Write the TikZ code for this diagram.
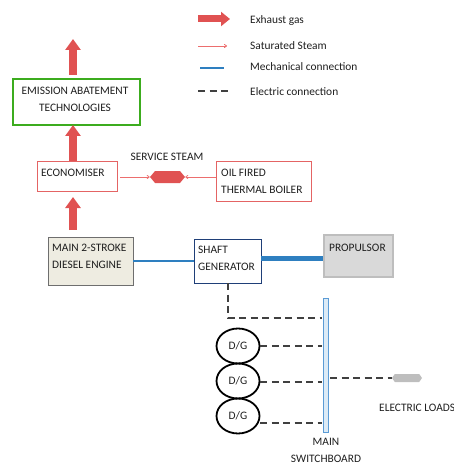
\documentclass[tikz,border=0pt]{standalone}
\usepackage{fontspec}
\setmainfont{Carlito}
\usetikzlibrary{arrows.meta,shapes.geometric,shapes.symbols}
\definecolor{exred}{RGB}{224,82,82}
\definecolor{stred}{RGB}{236,110,110}
\definecolor{boxred}{RGB}{228,100,100}
\definecolor{grn}{RGB}{60,172,30}
\definecolor{mblue}{RGB}{46,127,192}
\definecolor{dblue}{RGB}{31,63,120}
\definecolor{engfill}{RGB}{238,236,225}
\definecolor{enggray}{RGB}{110,110,110}
\definecolor{propfill}{RGB}{217,217,217}
\definecolor{propgray}{RGB}{190,190,190}
\definecolor{swfill}{RGB}{220,235,247}
\definecolor{swblue}{RGB}{91,155,213}
\definecolor{loadgray}{RGB}{190,190,190}
\definecolor{txtc}{RGB}{30,30,30}
\begin{document}
\begin{tikzpicture}[x=1pt,y=-1pt,
  every node/.style={font=\fontsize{11.4}{17}\selectfont, text=txtc},
  txt/.style={inner sep=0pt, align=left},
  exhaust/.style={exred, line width=8pt, -{Triangle[length=11pt,width=15pt]}},
  steam/.style={stred, line width=0.8pt, -{To[length=3pt,width=4pt]}},
  mech/.style={mblue, line width=2.6pt},
  mechthick/.style={mblue, line width=5pt},
  elec/.style={black!75, line width=1.2pt, dash pattern=on 7pt off 4.5pt},
  rbox/.style={draw, rectangle, inner sep=0pt, anchor=north west},
  dg/.style={draw=black, line width=1.8pt, ellipse, minimum width=43pt, minimum height=35pt, inner sep=0pt}
]
\useasboundingbox (0,0) rectangle (454,465);

% legend
\coordinate (l1a) at (198,19); \coordinate (l1b) at (230,19);
\coordinate (l2a) at (198,46); \coordinate (l2b) at (227,46);
\coordinate (l3a) at (200,68); \coordinate (l3b) at (224,68);
\coordinate (l4a) at (198,91); \coordinate (l4b) at (232,91);
\draw[exhaust, line width=7pt, -{Triangle[length=9pt,width=14pt]}] (l1a) -- (l1b);
\draw[steam] (l2a) -- (l2b);
\draw[mech] (l3a) -- (l3b);
\draw[elec, line width=1.3pt] (l4a) -- (l4b);
\node[txt, anchor=west] (lt1) at (250,21) {Exhaust gas};
\node[txt, anchor=west] (lt2) at (250,46) {Saturated Steam};
\node[txt, anchor=west] (lt3) at (250,67) {Mechanical connection};
\node[txt, anchor=west] (lt4) at (250,92) {Electric connection};

% boxes
\node[rbox, draw=grn, line width=1.6pt, minimum width=127pt, minimum height=46pt] (emis) at (12,78) {};
\node[txt, align=center] (emist) at (75,99) {EMISSION ABATEMENT\\TECHNOLOGIES};
\node[rbox, draw=boxred, line width=0.8pt, minimum width=80pt, minimum height=30pt] (eco) at (37,161) {};
\node[txt, anchor=west] (ecot) at (41,173) {ECONOMISER};
\node[rbox, draw=boxred, line width=0.8pt, minimum width=95pt, minimum height=40pt] (boil) at (216,161) {};
\node[txt, anchor=west] (boilt) at (221,181.5) {OIL FIRED\\THERMAL BOILER};
\node[rbox, draw=enggray, fill=engfill, line width=1pt, minimum width=85pt, minimum height=48pt] (eng) at (48,237) {};
\node[txt, anchor=west] (engt) at (52,256.5) {MAIN 2-STROKE\\DIESEL ENGINE};
\node[rbox, draw=dblue, line width=0.9pt, minimum width=67pt, minimum height=44pt] (sg) at (194,239) {};
\node[txt, anchor=west] (sgt) at (198,258.5) {SHAFT\\GENERATOR};
\node[rbox, draw=propgray, fill=propfill, line width=2pt, minimum width=69pt, minimum height=42pt] (prop) at (323,234) {};
\node[txt, anchor=west] (propt) at (329,248) {PROPULSOR};

% service steam
\node[signal, signal to=east and west, signal pointer angle=100, fill=exred, inner sep=0pt, minimum width=35pt, minimum height=12pt] (hex) at (167.5,177) {};
\node[txt] (sst) at (167,157) {SERVICE STEAM};
\coordinate (ecoR) at (120,177);
\coordinate (boilL) at (216,177);
\draw[steam] (ecoR) -- (hex.west);
\draw[steam] (boilL) -- (hex.east);

% exhaust arrows
\coordinate (emisTopS) at (73,75);
\coordinate (emisTop) at (73,39);
\draw[exhaust] (emisTopS) -- (emisTop);
\coordinate (ecoTop) at (73,161);
\coordinate (emisBot) at (73,125);
\draw[exhaust] (ecoTop) -- (emisBot);
\coordinate (engTop) at (73,230);
\coordinate (ecoBot) at (73,197);
\draw[exhaust] (engTop) -- (ecoBot);

% mechanical
\coordinate (engR) at (133,261); \coordinate (sgL) at (194,261);
\draw[mech] (engR) -- (sgL);
\coordinate (sgR) at (261,258); \coordinate (propL) at (323,258);
\draw[mechthick] (sgR) -- (propL);

% switchboard
\node[rbox, draw=swblue, fill=swfill, line width=0.8pt, minimum width=5pt, minimum height=134pt] (sw) at (323,298) {};
\node[txt, align=center] (swt) at (326,450.5) {MAIN\\SWITCHBOARD};

% D/G
\node[dg] (dg1) at (238,346) {D/G};
\node[dg] (dg2) at (238,381) {D/G};
\node[dg] (dg3) at (238,416) {D/G};

% electric
\coordinate (sgB) at (228,283);
\coordinate (sw0) at (322,318);
\draw[elec] (sgB) |- (sw0);
\coordinate (sw1) at (322,346);
\coordinate (sw2) at (322,382);
\coordinate (dg3e) at (260,423);
\coordinate (sw3) at (322,423);
\draw[elec] (dg1.east) -- (sw1);
\draw[elec] (dg2.east |- sw2) -- (sw2);
\draw[elec] (dg3e) -- (sw3);
\node[signal, signal to=east and west, signal pointer angle=110, fill=loadgray, inner sep=0pt, minimum width=30pt, minimum height=8pt] (load) at (407,378) {};
\coordinate (swR) at (330,378);
\draw[elec] (swR) -- (load.west);
\node[txt, anchor=west] (loadt) at (379,408) {ELECTRIC LOADS};
\end{tikzpicture}
\end{document}
